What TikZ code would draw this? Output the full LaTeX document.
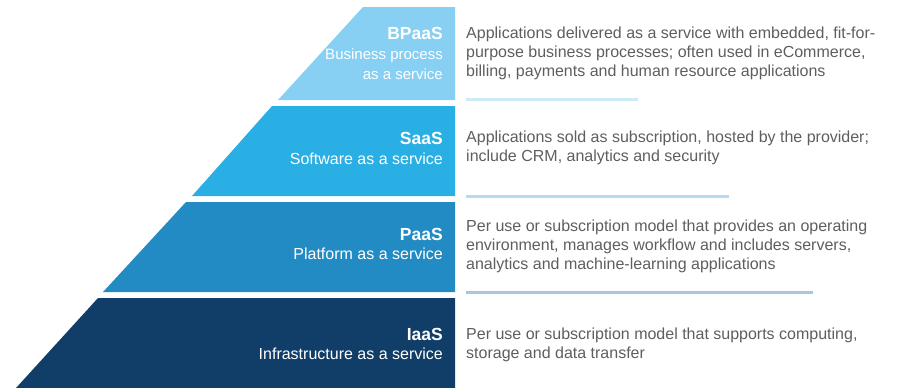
\documentclass[tikz,border=0pt]{standalone}
\usepackage{fontspec}
\setmainfont{Liberation Sans}
\definecolor{cB}{HTML}{87D0F3}
\definecolor{cS}{HTML}{29AFE4}
\definecolor{cP}{HTML}{228BC4}
\definecolor{cI}{HTML}{103E68}
\definecolor{lineA}{HTML}{CDEAF9}
\definecolor{lineB}{HTML}{B6DAF2}
\definecolor{lineC}{HTML}{A8C6E1}
\definecolor{desc}{HTML}{5E5E5E}
\newcommand{\ttl}[1]{{\fontsize{17.5}{19.5}\selectfont\bfseries #1}}
\tikzset{
  title/.style={anchor=north east, inner sep=0pt, align=right, text=white,
    font=\fontsize{16}{19.5}\selectfont},
  descr/.style={anchor=north west, inner sep=0pt, align=left, text=desc,
    font=\fontsize{16}{19}\selectfont},
  sep/.style={line width=3pt}
}
\begin{document}
\begin{tikzpicture}[x=1pt,y=-1pt]
\useasboundingbox (0,0) rectangle (911,388);
% bands
\fill[cB] (363,7) -- (455,7) -- (455,100) -- (278,100) -- cycle;
\fill[cS] (272,106) -- (455,106) -- (455,196) -- (192,196) -- cycle;
\fill[cP] (186,202) -- (455,202) -- (455,292) -- (103,292) -- cycle;
\fill[cI] (98,298) -- (455,298) -- (455,388) -- (16,388) -- cycle;
% titles
\node[title, font=\fontsize{15}{20}\selectfont] (tB) at (443,27.5) {\ttl{BPaaS}\\Business process\\as a service};
\node[title] (tS) at (443,132.5) {\ttl{SaaS}\\Software as a service};
\node[title] (tP) at (443,228) {\ttl{PaaS}\\Platform as a service};
\node[title] (tI) at (443,328) {\ttl{IaaS}\\Infrastructure as a service};
% descriptions
\node[descr] (dB) at (466,26.3) {Applications delivered as a service with embedded, fit-for-\\purpose business processes; often used in eCommerce,\\billing, payments and human resource applications};
\node[descr] (dS) at (466,131) {Applications sold as subscription, hosted by the provider;\\include CRM, analytics and security};
\node[descr] (dP) at (466,220) {Per use or subscription model that provides an operating\\environment, manages workflow and includes servers,\\analytics and machine-learning applications};
\node[descr] (dI) at (466,327.6) {Per use or subscription model that supports computing,\\storage and data transfer};
% separators
\coordinate (a1) at (466,99); \coordinate (a2) at (638,99);
\coordinate (b1) at (466,196); \coordinate (b2) at (729,196);
\coordinate (c1) at (466,292); \coordinate (c2) at (813,292);
\draw[sep, lineA] (a1) -- (a2);
\draw[sep, lineB] (b1) -- (b2);
\draw[sep, lineC] (c1) -- (c2);
\end{tikzpicture}
\end{document}
